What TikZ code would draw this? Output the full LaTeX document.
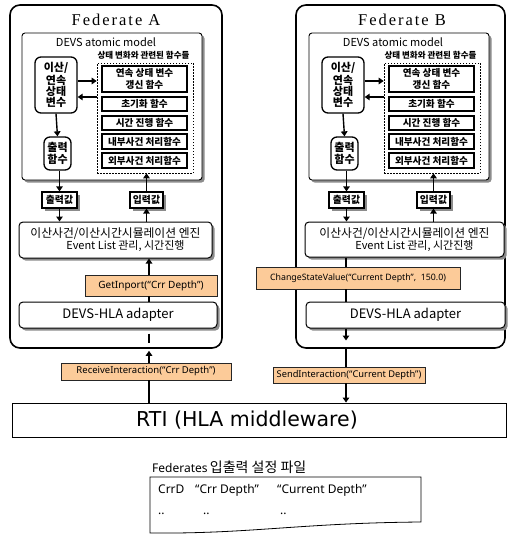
\documentclass[tikz,border=0pt]{standalone}
\usepackage{fontspec}
\setmainfont{Noto Sans CJK KR}
\newfontfamily\titlefont[LetterSpace=12]{Liberation Serif}
\newfontfamily\latinsans{Noto Sans}
\newfontfamily\rtifont{DejaVu Sans}
\usetikzlibrary{arrows.meta,shadows}
\definecolor{peach}{RGB}{252,203,153}
\newcommand{\bx}[7]{\node[#6, minimum width={((#4)-(#2))*1pt}, minimum height={((#5)-(#3))*1pt}] (#1) at ({((#2)+(#4))/2},{((#3)+(#5))/2}) {#7};}
\tikzset{
  fed/.style={draw, line width=1.6pt, rounded corners=10pt},
  shad/.style={drop shadow={shadow xshift=2.5pt, shadow yshift=-2.5pt, fill=black!45, opacity=1}},
  model/.style={draw, line width=0.9pt, rounded corners=3pt, fill=white, shad},
  dotbox/.style={draw, line width=0.6pt, dash pattern=on 1.5pt off 1.5pt},
  func/.style={draw, line width=1.6pt, fill=white, inner sep=0pt, align=center, font=\bfseries\fontsize{9.6}{11.5}\selectfont},
  state/.style={draw, line width=1.3pt, rounded corners=6pt, fill=white, inner sep=0pt, align=center, font=\bfseries\fontsize{11}{11}\selectfont},
  val/.style={draw, line width=1.2pt, fill=white, inner sep=0pt, shad, font=\bfseries\fontsize{9.8}{11}\selectfont},
  eng/.style={draw, line width=1pt, rounded corners=4pt, fill=white, inner sep=0pt, align=center, shad},
  orange/.style={draw=black!85, line width=0.8pt, fill=peach, inner sep=0pt, font=\latinsans\fontsize{9.5}{10}\selectfont},
  rtibox/.style={draw, line width=0.9pt, fill=white, inner sep=0pt, font=\rtifont\fontsize{20.5}{22}\selectfont},
  arr/.style={line width=1.4pt, -{Triangle[length=5pt,width=6.5pt]}},
  ln/.style={line width=1.4pt},
  title/.style={font=\titlefont\fontsize{16.5}{18}\selectfont},
}
\begin{document}
\begin{tikzpicture}[x=1pt,y=-1pt]
\useasboundingbox (0,0) rectangle (507,535);
\coordinate (y81) at (0,81);
\coordinate (y97) at (0,97);
% federates
\bx{fedA}{10}{5}{222}{348}{fed}{}
\bx{fedB}{296}{5}{505}{348}{fed}{}
\node[title] (tA) at (116,20) {Federate A};
\node[title] (tB) at (402,20) {Federate B};
% engines
\bx{engA}{19}{222}{212}{258}{eng}{{\fontsize{11.8}{15}\selectfont 이산사건/이산시간시뮬레이션 엔진}\\{\fontsize{11}{15}\selectfont\hspace*{20pt}Event List 관리, 시간진행}}
\bx{engB}{305}{222}{504}{257}{eng}{{\fontsize{11.8}{15}\selectfont 이산사건/이산시간시뮬레이션 엔진}\\{\fontsize{11}{15}\selectfont\hspace*{20pt}Event List 관리, 시간진행}}
\foreach \p/\o in {A/0,B/287}{
  \bx{dev\p}{22+\o}{33}{202+\o}{180}{model}{}
  \node[font=\fontsize{11}{12}\selectfont] (devl\p) at (106+\o,42) {DEVS atomic model};
  \node[font=\bfseries\fontsize{8.5}{10}\selectfont] (fl\p) at (143.5+\o,55) {상태 변화와 관련된 함수들};
  \bx{dot\p}{97+\o}{63}{193+\o}{173}{dotbox}{}
  \bx{fa\p}{102+\o}{66}{187+\o}{92}{func}{연속 상태 변수\\갱신 함수}
  \bx{fb\p}{102+\o}{97}{187+\o}{111}{func}{초기화 함수}
  \bx{fc\p}{102+\o}{116}{187+\o}{130}{func}{시간 진행 함수}
  \bx{fd\p}{102+\o}{134}{187+\o}{149}{func}{내부사건 처리함수}
  \bx{fe\p}{102+\o}{153}{187+\o}{168}{func}{외부사건 처리함수}
  \bx{st\p}{35+\o}{57}{77+\o}{113}{state}{이산/\\연속\\상태\\변수}
  \bx{of\p}{44+\o}{137}{71+\o}{170}{state, font=\bfseries\fontsize{11}{11.5}\selectfont}{출력\\함수}
  \bx{ov\p}{42+\o}{192}{77+\o}{208}{val}{출력값}
  \bx{iv\p}{130+\o}{192}{163+\o}{208}{val}{입력값}
  \draw[arr] (st\p.east |- y81) -- (dot\p.west |- y81);
  \draw[arr] (dot\p.west |- y97) -- (st\p.east |- y97);
  \draw[arr] (st\p.south) -- (of\p.north);
  \draw[arr] (of\p.south -| ov\p.north) -- (ov\p.north);
  \draw[arr] (iv\p.north) -- (iv\p.north |- dot\p.south);
  \draw[arr] (ov\p.south) -- (ov\p.south |- eng\p.north);
  \draw[arr] (iv\p.south |- eng\p.north) -- (iv\p.south);
}
% Federate A lower part
\bx{getA}{85}{275}{217}{296}{orange, font=\latinsans\fontsize{10}{11}\selectfont}{GetInport(“Crr Depth”)}
\bx{adA}{19}{302}{217}{328}{eng, font=\fontsize{13}{14}\selectfont}{DEVS-HLA adapter}
\bx{recA}{61}{363}{231}{380}{orange}{ReceiveInteraction(“Crr Depth”)}
% Federate B lower part
\bx{csvB}{256}{267}{460}{289}{orange, font=\latinsans\fontsize{8.8}{10}\selectfont}{ChangeStateValue(“Current Depth”,\ \ 150.0)}
\bx{adB}{306}{302}{505}{328}{eng, font=\fontsize{13}{14}\selectfont}{DEVS-HLA adapter}
\bx{sendB}{273}{367}{425}{383}{orange, font=\latinsans\fontsize{9.3}{10}\selectfont}{SendInteraction(“Current Depth”)}
% RTI
\bx{rti}{12}{403}{506}{437}{rtibox}{RTI (HLA middleware)\hspace*{24pt}}
% connectors A
\coordinate (xA) at (149,0);
\draw[arr] (xA |- getA.north) -- (xA |- engA.south);
\draw[ln] (xA |- getA.south) -- (xA |- adA.north);
\draw[ln] ([yshift=-5pt]xA |- adA.south) -- ([yshift=6pt]xA |- fedA.south);
\draw[arr] (xA |- recA.north) -- ([yshift=-2pt]xA |- fedA.south);
\draw[ln] (xA |- recA.south) -- (xA |- rti.north);
% connectors B
\coordinate (xB) at (346,0);
\draw[ln] (xB |- engB.south) -- (xB |- csvB.north);
\draw[ln] (xB |- csvB.south) -- (xB |- adB.north);
\draw[arr] (xB |- adB.south) -- ([yshift=-12pt]xB |- adB.south);
\draw[ln] (xB |- fedB.south) -- (xB |- sendB.north);
\draw[arr] (xB |- sendB.south) -- (xB |- rti.north);
% config file
\node[anchor=west, inner sep=0pt] (flab) at (152,467) {{\latinsans\fontsize{12}{14}\selectfont Federates} {\fontsize{14}{15}\selectfont 입출력 설정 파일}};
\draw[line width=0.8pt] (150,477) -- (421,477) -- (421,522) .. controls (300,523) and (250,534) .. (150,533) -- cycle;
\begin{scope}[every node/.style={anchor=base west, inner sep=0pt, font=\latinsans\fontsize{12}{13}\selectfont}]
\node (c1) at (158,493) {CrrD};
\node (c2) at (195,493) {“Crr Depth”};
\node (c3) at (277,493) {“Current Depth”};
\node (d1) at (158,514) {..};
\node (d2) at (203,514) {..};
\node (d3) at (280,514) {..};
\end{scope}
\end{tikzpicture}
\end{document}
